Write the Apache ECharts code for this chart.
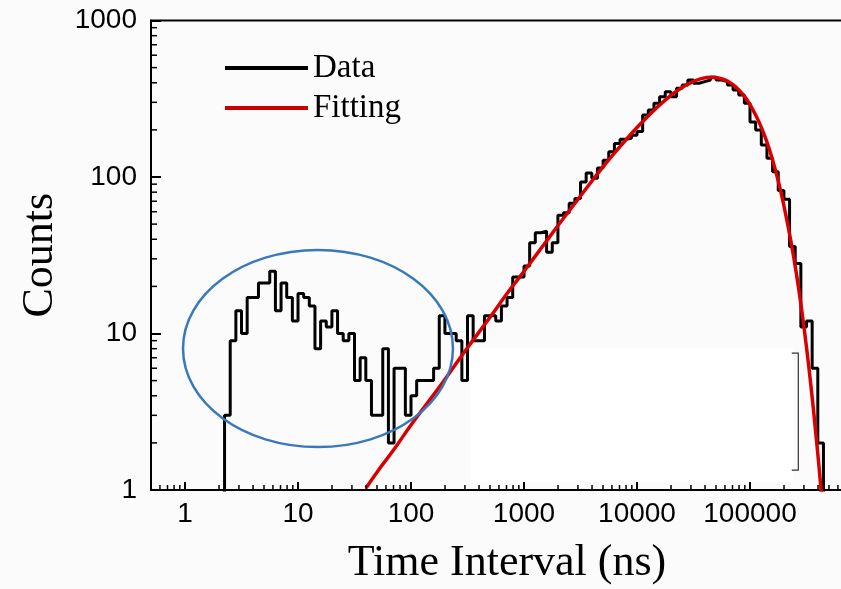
<!DOCTYPE html>
<html>
<head>
<meta charset="utf-8">
<script src="https://cdn.jsdelivr.net/npm/echarts@6/dist/echarts.min.js"></script>
<style>
html,body{margin:0;padding:0;background:#fbfbfb;}
#chart{width:841px;height:589px;}
</style>
</head>
<body>
<div id="chart"></div>
<script>
// ---------------- DATA ----------------
// Histogram of time intervals: log-spaced bins, 20 bins per decade,
// the first bin starts at 10^(7/20) ns.
const binsPerDecade = 20;
const firstBinIndex = 7;
const dataCounts = [
  3, 9, 14, 10, 17, 17, 21, 21, 25, 14,
  21, 17, 12, 18, 17, 15, 8, 12, 11, 14,
  10, 9, 10, 5, 7, 5, 3, 3, 8, 2,
  6, 6, 3, 4, 5, 5, 5, 6, 13, 10,
  10, 9, 5, 13, 9, 9, 13, 13, 12, 15,
  17, 23, 23, 27, 38, 44, 45, 33, 38, 57,
  59, 68, 73, 93, 106, 98, 114, 128, 145, 164,
  174, 177, 185, 195, 249, 268, 296, 326, 351, 326,
  369, 387, 417, 397, 407, 417, 434, 417, 407, 387,
  360, 334, 296, 225, 200, 160, 132, 108, 82, 72,
  36, 28, 11, 12, 6, 2
];

// Fitting curve
const fitTimes = [40, 50, 70, 100, 150, 200, 300, 500, 700, 1000, 1500, 2000, 3000, 5000, 7000,
  10000, 15000, 20000, 25000, 30000, 37000, 45000, 55000, 65000, 75000, 90000, 100000,
  120000, 140000, 160000, 180000, 200000, 230000, 260000, 290000, 320000, 350000, 380000, 410000, 430000];
const fitCounts = [1.03, 1.3, 1.8, 2.6, 3.85, 5.1, 7.7, 12.7, 17.8, 25, 37, 49, 72, 116, 155,
  207, 278, 333, 373, 401, 425, 434, 426, 405, 376, 325, 290,
  225, 170, 125, 91, 65, 39, 23, 13.3, 7.6, 4.3, 2.4, 1.36, 0.92];

const seriesNames = ['Data', 'Fitting'];
const xTickLabels = ['1', '10', '100', '1000', '10000', '100000'];
const yTickLabels = ['1', '10', '100', '1000'];

// Annotation extents in data space (time, counts)
const ellipseTime = [0.96, 235];
const ellipseCounts = [1.88, 34.2];
const patchTime = [333, 240000];
const patchCounts = [1.125, 8.07];
const bracketTime = [234000, 267600];
const bracketCounts = [1.34, 7.5];

// ---------------- BUILD ----------------
const histPoints = [];
const firstEdge = Math.pow(10, firstBinIndex / binsPerDecade);
histPoints.push([firstEdge, 0.5]);
dataCounts.forEach((c, i) => {
  histPoints.push([Math.pow(10, (firstBinIndex + i) / binsPerDecade), c]);
});
const lastEdge = Math.pow(10, (firstBinIndex + dataCounts.length) / binsPerDecade);
histPoints.push([lastEdge, dataCounts[dataCounts.length - 1]]);
histPoints.push([lastEdge, 0.5]);

const fitPoints = fitTimes.map((t, i) => [t, fitCounts[i]]);

// minor ticks (2..9 per decade)
const xMinor = [];
for (let d = -1; d <= 5; d++) {
  for (let m = 2; m <= 9; m++) {
    const v = m * Math.pow(10, d);
    if (v > 0.5 && v < 1e6) xMinor.push([v, 1]);
  }
}
const yMinor = [];
for (let d = 0; d <= 2; d++) {
  for (let m = 2; m <= 9; m++) yMinor.push([0.5, m * Math.pow(10, d)]);
}

function decadeLabel(labels) {
  return function (v) {
    const e = Math.log10(v);
    const r = Math.round(e);
    if (Math.abs(e - r) > 0.01 || r < 0 || r >= labels.length) return '';
    return labels[r];
  };
}

const chart = echarts.init(document.getElementById('chart'), null, {renderer: 'canvas'});

const option = {
  backgroundColor: '#fbfbfb',
  animation: false,
  grid: {
    left: 151, top: 20.5, right: -22, bottom: 99,
    containLabel: false, outerBoundsMode: 'none',
    show: true, borderColor: '#000', borderWidth: 2, backgroundColor: 'transparent'
  },
  legend: {
    data: seriesNames,
    orient: 'vertical',
    left: 220, top: 45,
    itemWidth: 83, itemHeight: 4, itemGap: 4,
    icon: 'rect',
    selectedMode: false,
    textStyle: {fontFamily: 'Liberation Serif', fontSize: 33, color: '#000', lineHeight: 36}
  },
  xAxis: {
    type: 'log', logBase: 10, min: 0.5, max: 1e6,
    axisLine: {lineStyle: {color: '#000', width: 2}},
    axisTick: {inside: true, length: 8, lineStyle: {color: '#000', width: 2}},
    axisLabel: {
      interval: 0, showMinLabel: false, showMaxLabel: false,
      formatter: decadeLabel(xTickLabels),
      fontFamily: 'Liberation Sans', fontSize: 28, color: '#000', margin: 10
    },
    splitLine: {show: false},
    name: 'Time Interval (ns)', nameLocation: 'middle', nameGap: 51,
    nameTextStyle: {fontFamily: 'Liberation Serif', fontSize: 44, color: '#000'}
  },
  yAxis: {
    type: 'log', logBase: 10, min: 1, max: 1000,
    axisLine: {lineStyle: {color: '#000', width: 2}},
    axisTick: {inside: true, length: 10, lineStyle: {color: '#000', width: 2}},
    axisLabel: {
      formatter: decadeLabel(yTickLabels),
      fontFamily: 'Liberation Sans', fontSize: 28, color: '#000', margin: 14
    },
    splitLine: {show: false},
    name: 'Counts', nameLocation: 'middle', nameGap: 89,
    nameTextStyle: {fontFamily: 'Liberation Serif', fontSize: 44, color: '#000'}
  },
  series: [
    {
      name: 'patch', type: 'custom', z: 1, silent: true,
      data: [[patchTime[0], patchCounts[0], patchTime[1], patchCounts[1]]],
      renderItem: function (params, api) {
        const p1 = api.coord([api.value(0), api.value(3)]);
        const p2 = api.coord([api.value(2), api.value(1)]);
        return {type: 'rect', shape: {x: p1[0], y: p1[1], width: p2[0] - p1[0], height: p2[1] - p1[1]},
          style: {fill: '#ffffff'}};
      }
    },
    {
      name: 'bracket', type: 'custom', z: 2, silent: true,
      data: [[bracketTime[0], bracketCounts[0], bracketTime[1], bracketCounts[1]]],
      renderItem: function (params, api) {
        const p1 = api.coord([api.value(0), api.value(3)]);
        const p2 = api.coord([api.value(2), api.value(1)]);
        return {type: 'polyline', shape: {points: [[p1[0], p1[1]], [p2[0], p1[1]], [p2[0], p2[1]], [p1[0], p2[1]]]},
          style: {stroke: '#333', lineWidth: 1.2, fill: null}};
      }
    },
    {
      name: 'xMinorTicks', type: 'custom', z: 6, silent: true,
      data: xMinor,
      renderItem: function (params, api) {
        const p = api.coord([api.value(0), api.value(1)]);
        return {type: 'line', shape: {x1: p[0], y1: p[1], x2: p[0], y2: p[1] - 5},
          style: {stroke: '#000', lineWidth: 1.5}};
      }
    },
    {
      name: 'yMinorTicks', type: 'custom', z: 6, silent: true,
      data: yMinor,
      renderItem: function (params, api) {
        const p = api.coord([api.value(0), api.value(1)]);
        return {type: 'line', shape: {x1: p[0], y1: p[1], x2: p[0] + 6, y2: p[1]},
          style: {stroke: '#000', lineWidth: 1.5}};
      }
    },
    {
      name: seriesNames[0], type: 'line', z: 3,
      data: histPoints, step: 'end', symbol: 'none', clip: true,
      color: '#000',
      lineStyle: {color: '#000', width: 3}
    },
    {
      name: seriesNames[1], type: 'line', z: 4,
      data: fitPoints, smooth: true, symbol: 'none', clip: true,
      color: '#cc0000',
      lineStyle: {color: '#d80000', width: 3.5}
    },
    {
      name: 'ellipse', type: 'custom', z: 5, silent: true,
      data: [[ellipseTime[0], ellipseCounts[0], ellipseTime[1], ellipseCounts[1]]],
      renderItem: function (params, api) {
        const p1 = api.coord([api.value(0), api.value(3)]);
        const p2 = api.coord([api.value(2), api.value(1)]);
        return {type: 'ellipse',
          shape: {cx: (p1[0] + p2[0]) / 2, cy: (p1[1] + p2[1]) / 2, rx: (p2[0] - p1[0]) / 2, ry: (p2[1] - p1[1]) / 2},
          style: {stroke: '#3a78bc', lineWidth: 2.5, fill: null}};
      }
    }
  ]
};
chart.setOption(option);
</script>
</body>
</html>
